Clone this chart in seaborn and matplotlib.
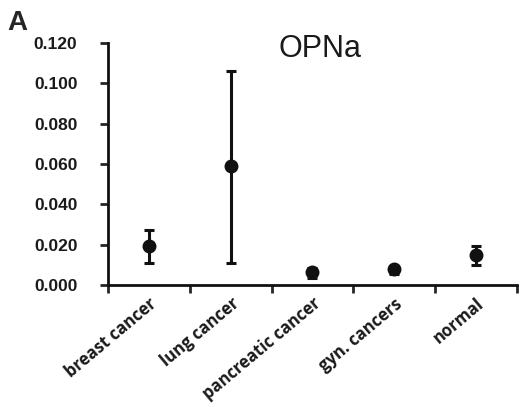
import pandas as pd
import matplotlib
matplotlib.use("Agg")
import matplotlib.pyplot as plt
import seaborn as sns

# data
groups = ["breast cancer", "lung cancer", "pancreatic cancer", "gyn. cancers", "normal"]
means = [0.0194, 0.0590, 0.0066, 0.0078, 0.0149]
err_low = [0.0110, 0.0109, 0.0035, 0.0055, 0.0099]
err_high = [0.0273, 0.1063, 0.0085, 0.0095, 0.0195]
yticks = [0.000, 0.020, 0.040, 0.060, 0.080, 0.100, 0.120]

df = pd.DataFrame({"group": groups, "mean": means, "lo": err_low, "hi": err_high})

sns.set_style("white")
plt.rcParams["font.family"] = ["Liberation Sans", "DejaVu Sans"]

fig = plt.figure(figsize=(5.2, 4.07), dpi=100)
ax = fig.add_axes([0.2077, 0.2998, 0.7863, 0.5946])

sns.pointplot(data=df, x="group", y="mean", order=groups, linestyle="none",
              errorbar=None, color="#111111", markersize=8, ax=ax)
pos = range(len(groups))
ax.errorbar(list(pos), df["mean"], yerr=[df["mean"] - df["lo"], df["hi"] - df["mean"]],
            fmt="none", ecolor="#111111", elinewidth=2.2, capsize=3.5, capthick=2.2)

ax.set_xlim(-0.5, len(groups) - 0.5)
ax.set_ylim(0, 0.12)
ax.set_yticks(yticks)
ax.set_yticklabels([f"{v:.3f}" for v in yticks], fontsize=12.5, fontweight="bold",
                   color="#1a1a1a")

# ticks at category boundaries, labels at centers
ax.set_xticks([i - 0.5 for i in range(len(groups) + 1)])
ax.set_xticklabels([])
ax.set_xticks(list(pos), minor=True)
ax.set_xticklabels(groups, minor=True, rotation=40, ha="right", rotation_mode="anchor",
                   fontsize=12, fontweight="bold", family="Open Sans", color="#1a1a1a")
ax.tick_params(axis="x", which="minor", length=0, pad=7)
ax.tick_params(axis="x", which="major", direction="out", length=6, width=2, bottom=True)
ax.tick_params(axis="y", direction="out", length=6, width=2, left=True, pad=16)
ax.set_xlabel("")
ax.set_ylabel("")

sns.despine(ax=ax)
for side in ["left", "bottom"]:
    ax.spines[side].set_linewidth(2)
    ax.spines[side].set_color("#111111")

ax.text(0.518, 0.977, "OPNa", transform=ax.transAxes, ha="center", va="center",
        fontsize=22, color="#1a1a1a")
fig.text(0.015, 0.975, "A", ha="left", va="top", fontsize=20, fontweight="bold")

fig.savefig("out.png", dpi=100)
